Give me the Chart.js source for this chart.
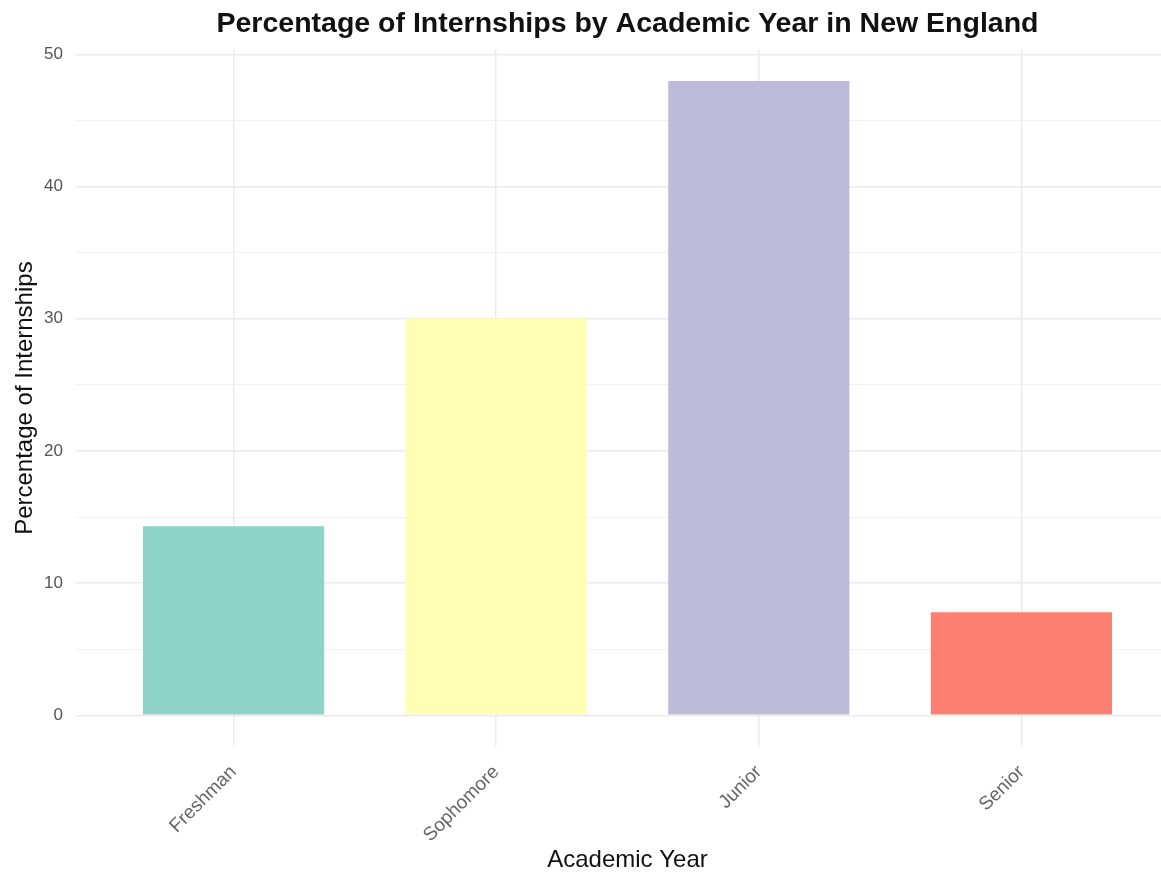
<!DOCTYPE html>
<html>
<head>
<meta charset="utf-8">
<script src="https://cdn.jsdelivr.net/npm/chart.js@4"></script>
<style>
  html, body { margin: 0; padding: 0; background: #ffffff; overflow: hidden; }
  #wrap { position: relative; width: 1179px; height: 872px; }
</style>
</head>
<body>
<div id="wrap"><canvas id="c"></canvas></div>
<script>
const chartTitle = "Percentage of Internships by Academic Year in New England";
const xTitle = "Academic Year";
const yTitle = "Percentage of Internships";
const categories = ["Freshman", "Sophomore", "Junior", "Senior"];
const percentages = [14.3, 30.0, 48.0, 7.8];
const barColors = ["#8DD3C7", "#FFFFB3", "#BEBADA", "#FB8072"];
const yTickValues = [0, 5, 10, 15, 20, 25, 30, 35, 40, 45, 50];
const yLabelled = [0, 10, 20, 30, 40, 50];

const points = categories.map((c, i) => ({ x: i + 1, y: percentages[i] }));

new Chart(document.getElementById('c'), {
  type: 'bar',
  data: {
    datasets: [{
      data: points,
      backgroundColor: barColors,
      borderWidth: 0,
      categoryPercentage: 1.0,
      barPercentage: 0.69
    }]
  },
  options: {
    responsive: true,
    maintainAspectRatio: false,
    animation: false,
    layout: { padding: { left: 0, right: 0, top: 0, bottom: 0 } },
    plugins: {
      legend: { display: false },
      tooltip: { enabled: false },
      title: {
        display: true,
        text: chartTitle,
        fullSize: false,
        color: '#111111',
        font: { family: "'Liberation Sans', Arial, sans-serif", size: 28.5, weight: 'bold' },
        padding: { top: 7, bottom: 8 }
      }
    },
    scales: {
      x: {
        type: 'linear',
        offset: false,
        min: 0.4,
        max: 4.6,
        afterBuildTicks: (axis) => { axis.ticks = categories.map((c, i) => ({ value: i + 1 })); },
        afterFit: (axis) => { axis.height = 125; },
        grid: { color: '#ebebeb', lineWidth: 1.5, drawTicks: false, offset: false },
        border: { display: false },
        ticks: {
          minRotation: 45,
          maxRotation: 45,
          padding: 14,
          color: '#666666',
          font: { family: "'Liberation Sans', Arial, sans-serif", size: 19 },
          callback: (v) => categories[Math.round(v) - 1] || ''
        },
        title: {
          display: true,
          text: xTitle,
          color: '#111111',
          font: { family: "'Liberation Sans', Arial, sans-serif", size: 24, lineHeight: 1.0 },
          padding: { top: 0, bottom: 0 }
        }
      },
      y: {
        min: -2.4,
        max: 50.4,
        afterBuildTicks: (axis) => { axis.ticks = yTickValues.map(v => ({ value: v })); },
        afterFit: (axis) => { axis.width = 76; },
        grid: {
          color: (ctx) => (yLabelled.includes(ctx.tick && ctx.tick.value) ? '#ebebeb' : '#f2f2f2'),
          lineWidth: (ctx) => (yLabelled.includes(ctx.tick && ctx.tick.value) ? 1.5 : 1),
          drawTicks: false
        },
        border: { display: false },
        ticks: {
          padding: 13,
          color: '#555555',
          font: { family: "'Liberation Sans', Arial, sans-serif", size: 17 },
          callback: (v) => (yLabelled.includes(v) ? String(v) : '')
        },
        title: {
          display: true,
          text: yTitle,
          color: '#111111',
          font: { family: "'Liberation Sans', Arial, sans-serif", size: 24 },
          padding: { top: 11, bottom: 0 }
        }
      }
    }
  }
});
</script>
</body>
</html>
